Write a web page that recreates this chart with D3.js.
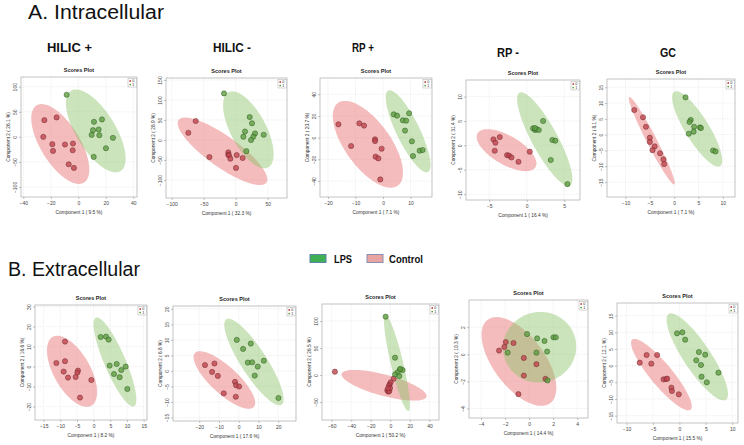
<!DOCTYPE html>
<html>
<head>
<meta charset="utf-8">
<script src="https://cdn.jsdelivr.net/npm/d3@7"></script>
<style>
body { margin: 0; background: #fff; }
svg { display: block; }
text { font-family: "Liberation Sans", Arial, sans-serif; }
</style>
</head>
<body>
<svg width="744" height="445"></svg>
<script>
// ---- scores (component 1, component 2) ----
// group 0 = Control, group 1 = LPS
var a1Ctrl = [[-24.7,33.3],[-15.8,38.7],[-25.5,0],[-18.9,-14.7],[-18.4,-28],[-9.7,-15.3],[-3.9,-13.3],[-4.1,-26.7],[-7.0,-54.7],[-3.2,-62]];
var a1Lps  = [[-8.5,84],[11.4,30],[17.2,34.7],[10.7,13.3],[14.8,14.7],[9.7,4],[15.3,3.3],[25.2,-2],[20.1,-22.7],[11.2,-40]];

var a2Ctrl = [[-62.5,47.5],[-74,18],[-41,-42.6],[-11.5,-31],[-11.5,-37],[-10.4,-38.5],[-8.3,-46.7],[1.6,-37.7],[10.9,-45],[0.5,-69.7]];
var a2Lps  = [[-18.2,116.4],[21.9,57.4],[25.5,41.8],[14.6,21.3],[12,8.2],[30.2,16.4],[27.6,8.2],[24,0],[43.8,13.1],[16.7,-27.9]];

var a3Ctrl = [[-16.2,12.3],[-8.6,13.2],[-6.9,11.1],[-11.6,-7.7],[-2.9,-1.5],[-2.9,-3.1],[-0.5,-10.2],[-2.7,-17.5],[-1.7,-19.1],[-1.0,-38.5]];
var a3Lps  = [[3.9,21.5],[5.1,20.3],[9.5,22.5],[7.2,16],[8.4,15.7],[8.0,6.5],[10.5,-3.4],[13.3,-12],[14.4,-11.4],[10.9,-16.9]];

var a4Ctrl = [[-4.44,1.23],[-3.6,1.7],[-4.18,0.55],[-4.27,-1.1],[-2.62,-2.0],[-2.36,-2.1],[-2.04,-2.47],[-1.1,-3.36],[0.4,-1.3]];
var a4Lps  = [[2.18,5.0],[0.84,3.5],[1.1,3.15],[1.33,3.3],[1.6,3.15],[1.1,3.56],[3.42,1.1],[3.8,0.96],[3.2,-3.0],[5.42,-7.95]];

var a5Ctrl = [[-8.2,7.8],[-6.4,5.5],[-5.8,2.5],[-5.0,-0.95],[-5.0,-2.3],[-4.0,-3.7],[-4.45,-4.9],[-2.9,-5.9],[-2.2,-7.8],[-2.05,-9.3]];
var a5Lps  = [[2.33,11.8],[3.4,4.65],[3.15,4.0],[4.1,2.5],[4.0,0.95],[3.0,0.3],[5.3,2.3],[5.5,2.1],[8.0,-5.0],[8.5,-5.3]];

var b1Ctrl = [[-8.6,12.5],[-11.2,1.8],[-8.6,2.7],[-9.0,-2.5],[-7.7,-5.5],[-4.7,-2.0],[-4.9,-3.0],[-5.4,-5.2],[-0.7,-6.7],[-4.1,-15.5]];
var b1Lps  = [[2.1,14.8],[3.7,15],[4.5,13.5],[4.8,0.5],[6.9,1.3],[6.1,-3.7],[8.3,-1.7],[9.6,0],[7.8,-5.3],[10.1,-11.2]];

var b2Ctrl = [[-17.1,1.9],[-12.3,2.4],[-13.5,-0.3],[-10.6,-1.6],[-1.9,-3.5],[-1.35,-4.6],[0.2,-5.0],[-7.6,-7.2],[-1.5,-8.3]];
var b2Lps  = [[-1.0,10.0],[6.1,8.8],[2.2,7.1],[4.6,2.7],[6.8,2.8],[9.6,1.4],[12.7,3.3],[8.1,-1.5],[20.1,-8.7]];

var b3Ctrl = [[-56.7,6.2],[3.4,-6.8],[0.3,-13.6],[-0.7,-17.3],[-1.4,-20.4],[-3.1,-28.4],[-2.0,-30.9],[-1.0,-29.6],[-0.3,-24],[-2.4,-24.7]];
var b3Lps  = [[-4.8,108],[4.8,32.1],[9.9,10.5],[12.6,9.3],[7.5,4.9],[4.8,1.2],[9.2,-1.9],[10.2,11.1]];

var b4Ctrl = [[-2.5,0.27],[-1.94,0.9],[-2.06,0.54],[-1.3,0.83],[-0.44,-0.27],[0.61,-0.73],[-0.44,-1.57],[1.36,-1.81],[-0.89,-2.94]];
var b4Lps  = [[-0.17,1.49],[0.67,1.17],[1.28,0.98],[2.03,1.25],[2.22,1.25],[-1.78,0.12],[0.61,0.12],[1.5,0.2],[1.53,-1.93]];

var b5Ctrl = [[-7.5,0.9],[-6.2,3.2],[-4.2,3.2],[-5.3,0.6],[-3.0,-4.1],[-2.5,-4.0],[-2.3,-3.9],[-1.5,-6.6],[-1.4,-7.6],[-0.1,-8.6]];
var b5Lps  = [[-0.44,9.7],[0.57,10],[1.1,7.8],[3.7,4.1],[4.9,3.3],[3.2,1.6],[4.1,0.2],[7.4,-2.1],[4.2,-3.3],[5.2,-5.0]];

// tick labels
var a1XTicks = [-40,-20,0,20,40],      a1YTicks = [-100,-50,0,50,100];
var a2XTicks = [-100,-50,0,50],        a2YTicks = [-100,-50,0,50,100,150];
var a3XTicks = [-20,-10,0,10],         a3YTicks = [-40,-20,0,20,40];
var a4XTicks = [-5,0,5],               a4YTicks = [-10,-5,0,5,10];
var a5XTicks = [-10,-5,0,5,10],        a5YTicks = [-15,-10,-5,0,5,10,15];
var b1XTicks = [-15,-10,-5,0,5,10,15], b1YTicks = [-20,-10,0,10,20,30];
var b2XTicks = [-20,-10,0,10,20],      b2YTicks = [-15,-10,-5,0,5,10,15,20];
var b3XTicks = [-60,-40,-20,0,20,40],  b3YTicks = [-50,0,50,100];
var b4XTicks = [-4,-2,0,2,4],          b4YTicks = [-4,-2,0,2];
var b5XTicks = [-10,-5,0,5,10],        b5YTicks = [-15,-10,-5,0,5,10,15];

// explained variance labels
var xTitles = ["Component 1 ( 9.5 %)","Component 1 ( 32.3 %)","Component 1 ( 7.1 %)","Component 1 ( 16.4 %)","Component 1 ( 7.1 %)",
               "Component 1 ( 8.2 %)","Component 1 ( 17.6 %)","Component 1 ( 50.2 %)","Component 1 ( 14.4 %)","Component 1 ( 15.5 %)"];
var yTitles = ["Component 2 ( 26.1 %)","Component 2 ( 28.9 %)","Component 2 ( 20.7 %)","Component 2 ( 31.4 %)","Component 2 ( 8.1 %)",
               "Component 2 ( 16.6 %)","Component 2 ( 6.8 %)","Component 2 ( 26.5 %)","Component 2 ( 10.3 %)","Component 2 ( 12.1 %)"];

var methods = ["HILIC +","HILIC -","RP +","RP -","GC"];
var groups = ["LPS","Control"];

// layout: box = [left, top, right, bottom] in px
var panels = [
  {box:[21,77,137,197],  xd:[-41.7,42.7],  yd:[-120,119.4], xt:a1XTicks, yt:a1YTicks, ctrl:a1Ctrl, lps:a1Lps},
  {box:[166,78,287,198], xd:[-108.9,80.2], yd:[-145,155],   xt:a2XTicks, yt:a2YTicks, ctrl:a2Ctrl, lps:a2Lps},
  {box:[320,78,432,197], xd:[-22.9,17.8],  yd:[-54.7,55],   xt:a3XTicks, yt:a3YTicks, ctrl:a3Ctrl, lps:a3Lps},
  {box:[466,80,580,200], xd:[-8.1,7.1],    yd:[-11.2,13.4], xt:a4XTicks, yt:a4YTicks, ctrl:a4Ctrl, lps:a4Lps},
  {box:[607,79,735,197], xd:[-13.8,12.5],  yd:[-19.7,17.6], xt:a5XTicks, yt:a5YTicks, ctrl:a5Ctrl, lps:a5Lps},
  {box:[35,305,147,420], xd:[-17.6,16],    yd:[-26.7,30.8], xt:b1XTicks, yt:b1YTicks, ctrl:b1Ctrl, lps:b1Lps},
  {box:[173,306,296,421],xd:[-33.3,29],    yd:[-16.1,20.9], xt:b2XTicks, yt:b2YTicks, ctrl:b2Ctrl, lps:b2Lps},
  {box:[322,304,439,420],xd:[-69.9,49.8],  yd:[-83.3,131.5],xt:b3XTicks, yt:b3YTicks, ctrl:b3Ctrl, lps:b3Lps},
  {box:[469,300,588,418],xd:[-5.0,4.9],    yd:[-4.7,4.0],   xt:b4XTicks, yt:b4YTicks, ctrl:b4Ctrl, lps:b4Lps},
  {box:[617,303,738,423],xd:[-11.8,11.1],  yd:[-17.2,18.8], xt:b5XTicks, yt:b5YTicks, ctrl:b5Ctrl, lps:b5Lps}
];

var svg = d3.select("svg");

var red = {fill:"#e97a7a", point:"#c0454f", stroke:"#6e2a2e"};
var green = {fill:"#8cc46a", point:"#5f9e42", stroke:"#2f5a22"};

// 95% confidence ellipse from the group's scores
function ellipse(pts) {
  var n = pts.length;
  var mx = d3.mean(pts, function(d) { return d[0]; });
  var my = d3.mean(pts, function(d) { return d[1]; });
  var a = 0, b = 0, c = 0;
  pts.forEach(function(d) {
    a += (d[0]-mx)*(d[0]-mx);
    b += (d[0]-mx)*(d[1]-my);
    c += (d[1]-my)*(d[1]-my);
  });
  a /= n-1; b /= n-1; c /= n-1;
  var m = (a+c)/2, r = Math.sqrt((a-c)*(a-c)/4 + b*b);
  var l1 = m + r, l2 = Math.max(m - r, 0);
  var th = 0.5*Math.atan2(2*b, a-c);
  var k = 5.991;
  var out = [];
  for (var i = 0; i < 120; i++) {
    var t = i/120*2*Math.PI;
    var ex = Math.sqrt(l1*k)*Math.cos(t), ey = Math.sqrt(l2*k)*Math.sin(t);
    out.push([mx + ex*Math.cos(th) - ey*Math.sin(th), my + ex*Math.sin(th) + ey*Math.cos(th)]);
  }
  return out;
}

function drawPanel(p, i) {
  var x = d3.scaleLinear().domain(p.xd).range([p.box[0], p.box[2]]);
  var y = d3.scaleLinear().domain(p.yd).range([p.box[3], p.box[1]]);
  var w = p.box[2]-p.box[0], h = p.box[3]-p.box[1];
  var g = svg.append("g");

  g.append("clipPath").attr("id", "clip" + i)
    .append("rect").attr("x", p.box[0]).attr("y", p.box[1]).attr("width", w).attr("height", h);

  // grid
  g.selectAll(".vg").data(p.xt).enter().append("line")
    .attr("x1", function(d) { return x(d); }).attr("x2", function(d) { return x(d); })
    .attr("y1", p.box[1]).attr("y2", p.box[3])
    .attr("stroke", "#e6e6e6").attr("stroke-width", 0.6).attr("stroke-dasharray", "1.5,1");
  g.selectAll(".hg").data(p.yt).enter().append("line")
    .attr("y1", function(d) { return y(d); }).attr("y2", function(d) { return y(d); })
    .attr("x1", p.box[0]).attr("x2", p.box[2])
    .attr("stroke", "#e6e6e6").attr("stroke-width", 0.6).attr("stroke-dasharray", "1.5,1");

  var line = d3.line()
    .x(function(d) { return x(d[0]); })
    .y(function(d) { return y(d[1]); })
    .curve(d3.curveLinearClosed);

  var inner = g.append("g").attr("clip-path", "url(#clip" + i + ")");
  inner.append("path").attr("d", line(ellipse(p.ctrl)))
    .attr("fill", red.fill).attr("fill-opacity", 0.5);
  inner.append("path").attr("d", line(ellipse(p.lps)))
    .attr("fill", green.fill).attr("fill-opacity", 0.45);

  inner.selectAll(".c").data(p.ctrl).enter().append("circle")
    .attr("cx", function(d) { return x(d[0]); })
    .attr("cy", function(d) { return y(d[1]); })
    .attr("r", 2.6)
    .attr("fill", red.point).attr("fill-opacity", 0.8)
    .attr("stroke", red.stroke).attr("stroke-width", 0.5);
  inner.selectAll(".l").data(p.lps).enter().append("circle")
    .attr("cx", function(d) { return x(d[0]); })
    .attr("cy", function(d) { return y(d[1]); })
    .attr("r", 2.6)
    .attr("fill", green.point).attr("fill-opacity", 0.8)
    .attr("stroke", green.stroke).attr("stroke-width", 0.5);

  // frame
  g.append("rect").attr("x", p.box[0]).attr("y", p.box[1]).attr("width", w).attr("height", h)
    .attr("fill", "none").attr("stroke", "#aaa").attr("stroke-width", 0.7);

  // axes
  var ax = g.append("g").attr("transform", "translate(0," + p.box[3] + ")")
    .call(d3.axisBottom(x).tickValues(p.xt).tickSize(2).tickPadding(2).tickFormat(d3.format("d")));
  ax.select(".domain").remove();
  ax.selectAll("line").attr("stroke", "#888").attr("stroke-width", 0.5);
  ax.selectAll("text").attr("font-size", 5).attr("fill", "#444");

  var ay = g.append("g").attr("transform", "translate(" + p.box[0] + ",0)")
    .call(d3.axisLeft(y).tickValues(p.yt).tickSize(2).tickFormat(d3.format("d")));
  ay.select(".domain").remove();
  ay.selectAll("line").attr("stroke", "#888").attr("stroke-width", 0.5);
  ay.selectAll("text")
    .attr("font-size", 5).attr("fill", "#444")
    .attr("text-anchor", "middle")
    .attr("transform", "rotate(-90)")
    .attr("x", 0).attr("y", -4).attr("dy", 0);

  // titles
  g.append("text").attr("x", (p.box[0]+p.box[2])/2).attr("y", p.box[1]-5)
    .attr("text-anchor", "middle").attr("font-size", 5.5).attr("font-weight", "bold").attr("fill", "#222")
    .text("Scores Plot");
  g.append("text").attr("x", (p.box[0]+p.box[2])/2).attr("y", p.box[3]+17)
    .attr("text-anchor", "middle").attr("font-size", 4.8).attr("fill", "#333")
    .text(xTitles[i]);
  g.append("text")
    .attr("transform", "translate(" + (p.box[0]-11) + "," + ((p.box[1]+p.box[3])/2) + ") rotate(-90)")
    .attr("text-anchor", "middle").attr("font-size", 4.8).attr("fill", "#333")
    .text(yTitles[i]);

  // small group legend
  var lg = g.append("g").attr("transform", "translate(" + (p.box[2]-9) + "," + (p.box[1]+1.5) + ")");
  lg.append("rect").attr("width", 8.5).attr("height", 8.5)
    .attr("fill", "#fff").attr("stroke", "#999").attr("stroke-width", 0.4);
  lg.selectAll("circle").data([red, green]).enter().append("circle")
    .attr("cx", 2.2).attr("cy", function(d, j) { return 2.5 + j*3.6; }).attr("r", 0.9)
    .attr("fill", function(d) { return d.point; });
  lg.selectAll("text").data(["0","1"]).enter().append("text")
    .attr("x", 4.2).attr("y", function(d, j) { return 3.9 + j*3.6; })
    .attr("font-size", 3.8).attr("fill", "#333")
    .text(function(d) { return d; });
}

panels.forEach(drawPanel);

// section headings
svg.append("text").attr("x", 28).attr("y", 19)
  .attr("font-size", 20).attr("fill", "#111")
  .attr("textLength", 136).attr("lengthAdjust", "spacingAndGlyphs")
  .text("A. Intracellular");
svg.append("text").attr("x", 8).attr("y", 276)
  .attr("font-size", 20).attr("fill", "#111")
  .attr("textLength", 132).attr("lengthAdjust", "spacingAndGlyphs")
  .text("B. Extracellular");

var methodPos = [[47,52,45],[213,52,38],[352,52,22],[497,57,22],[660,57,16]];
svg.selectAll(".method").data(methods).enter().append("text")
  .attr("class", "method")
  .attr("x", function(d, i) { return methodPos[i][0]; })
  .attr("y", function(d, i) { return methodPos[i][1]; })
  .attr("textLength", function(d, i) { return methodPos[i][2]; })
  .attr("lengthAdjust", "spacingAndGlyphs")
  .attr("font-size", 12).attr("font-weight", "bold").attr("fill", "#111")
  .text(function(d) { return d; });

// group legend in the middle
var legendColors = [{fill:"#3fae55", stroke:"#5b86a8"}, {fill:"#e8a3a3", stroke:"#8a8fb0"}];
var legendX = [310, 367];
var legendText = [[334, 18], [389, 34]];
var lgd = svg.append("g");
lgd.selectAll("rect").data(groups).enter().append("rect")
  .attr("x", function(d, i) { return legendX[i]; }).attr("y", 254.5)
  .attr("width", 16).attr("height", 8)
  .attr("fill", function(d, i) { return legendColors[i].fill; })
  .attr("stroke", function(d, i) { return legendColors[i].stroke; })
  .attr("stroke-width", 1);
lgd.selectAll("text").data(groups).enter().append("text")
  .attr("x", function(d, i) { return legendText[i][0]; }).attr("y", 262.5)
  .attr("textLength", function(d, i) { return legendText[i][1]; })
  .attr("lengthAdjust", "spacingAndGlyphs")
  .attr("font-size", 10.5).attr("font-weight", "bold").attr("fill", "#111")
  .text(function(d) { return d; });
</script>
</body>
</html>
